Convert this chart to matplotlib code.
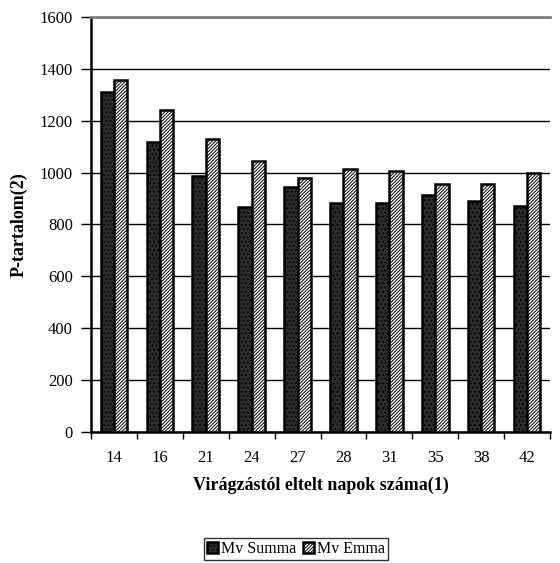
import numpy as np
import matplotlib.pyplot as plt

plt.rcParams['font.family'] = ['Liberation Serif', 'DejaVu Serif']
plt.rcParams['hatch.linewidth'] = 0.7

# Days after flowering and P content for the two varieties
days = ["14", "16", "21", "24", "27", "28", "31", "35", "38", "42"]
summa = [1309, 1117, 986, 869, 943, 883, 883, 912, 892, 872]
emma = [1358, 1241, 1131, 1046, 980, 1014, 1008, 956, 956, 997]

fig = plt.figure(figsize=(5.6, 5.63), dpi=100)
ax = fig.add_axes([91 / 560, 1 - 432 / 563, 459 / 560, 415 / 563])

x = np.arange(len(days))
w = 0.29
plt.rcParams['hatch.color'] = '#000000'
b1 = ax.bar(x - w / 2, summa, w, color='#2b2b2b', edgecolor='black',
            linewidth=1.8, hatch='....', label='Mv Summa', zorder=3)
b2 = ax.bar(x + w / 2, emma, w, color='white', edgecolor='black',
            linewidth=1.8, hatch='//////////', label='Mv Emma', zorder=3)

ax.set_xlim(-0.5, len(days) - 0.5)
ax.set_ylim(0, 1600)
ax.set_yticks(range(0, 1601, 200))
ax.yaxis.grid(True, color='black', linewidth=1, zorder=0)
ax.set_axisbelow(True)

# category boundaries carry the tick marks, labels sit in the middle
ax.set_xticks(np.arange(-0.5, len(days)), minor=False)
ax.set_xticklabels([])
ax.set_xticks(x, minor=True)
ax.set_xticklabels(days, minor=True)
ax.tick_params(axis='x', which='major', direction='out', length=5, width=1)
ax.tick_params(axis='x', which='minor', length=0, pad=13, labelsize=12)
ax.tick_params(axis='y', direction='out', length=7, width=1, pad=6,
               labelsize=12)

ax.spines['right'].set_visible(False)
ax.spines['top'].set_color('#808080')
ax.spines['top'].set_linewidth(2)
ax.spines['left'].set_linewidth(1.8)
ax.spines['bottom'].set_linewidth(1.8)

ax.set_ylabel("P-tartalom(2)", fontsize=13, fontweight='bold', labelpad=9)
ax.set_xlabel("Virágzástól eltelt napok száma(1)", fontsize=13,
              fontweight='bold', labelpad=8)

fig.legend(handles=[b1, b2], loc='center', bbox_to_anchor=(296 / 560, 1 - 549 / 563),
           ncol=2, frameon=True, fancybox=False, edgecolor='black',
           fontsize=11.5, handlelength=0.7, handleheight=0.7, handletextpad=0.2,
           columnspacing=0.4, borderpad=0.2, borderaxespad=0)

fig.savefig("out.png", dpi=100)
